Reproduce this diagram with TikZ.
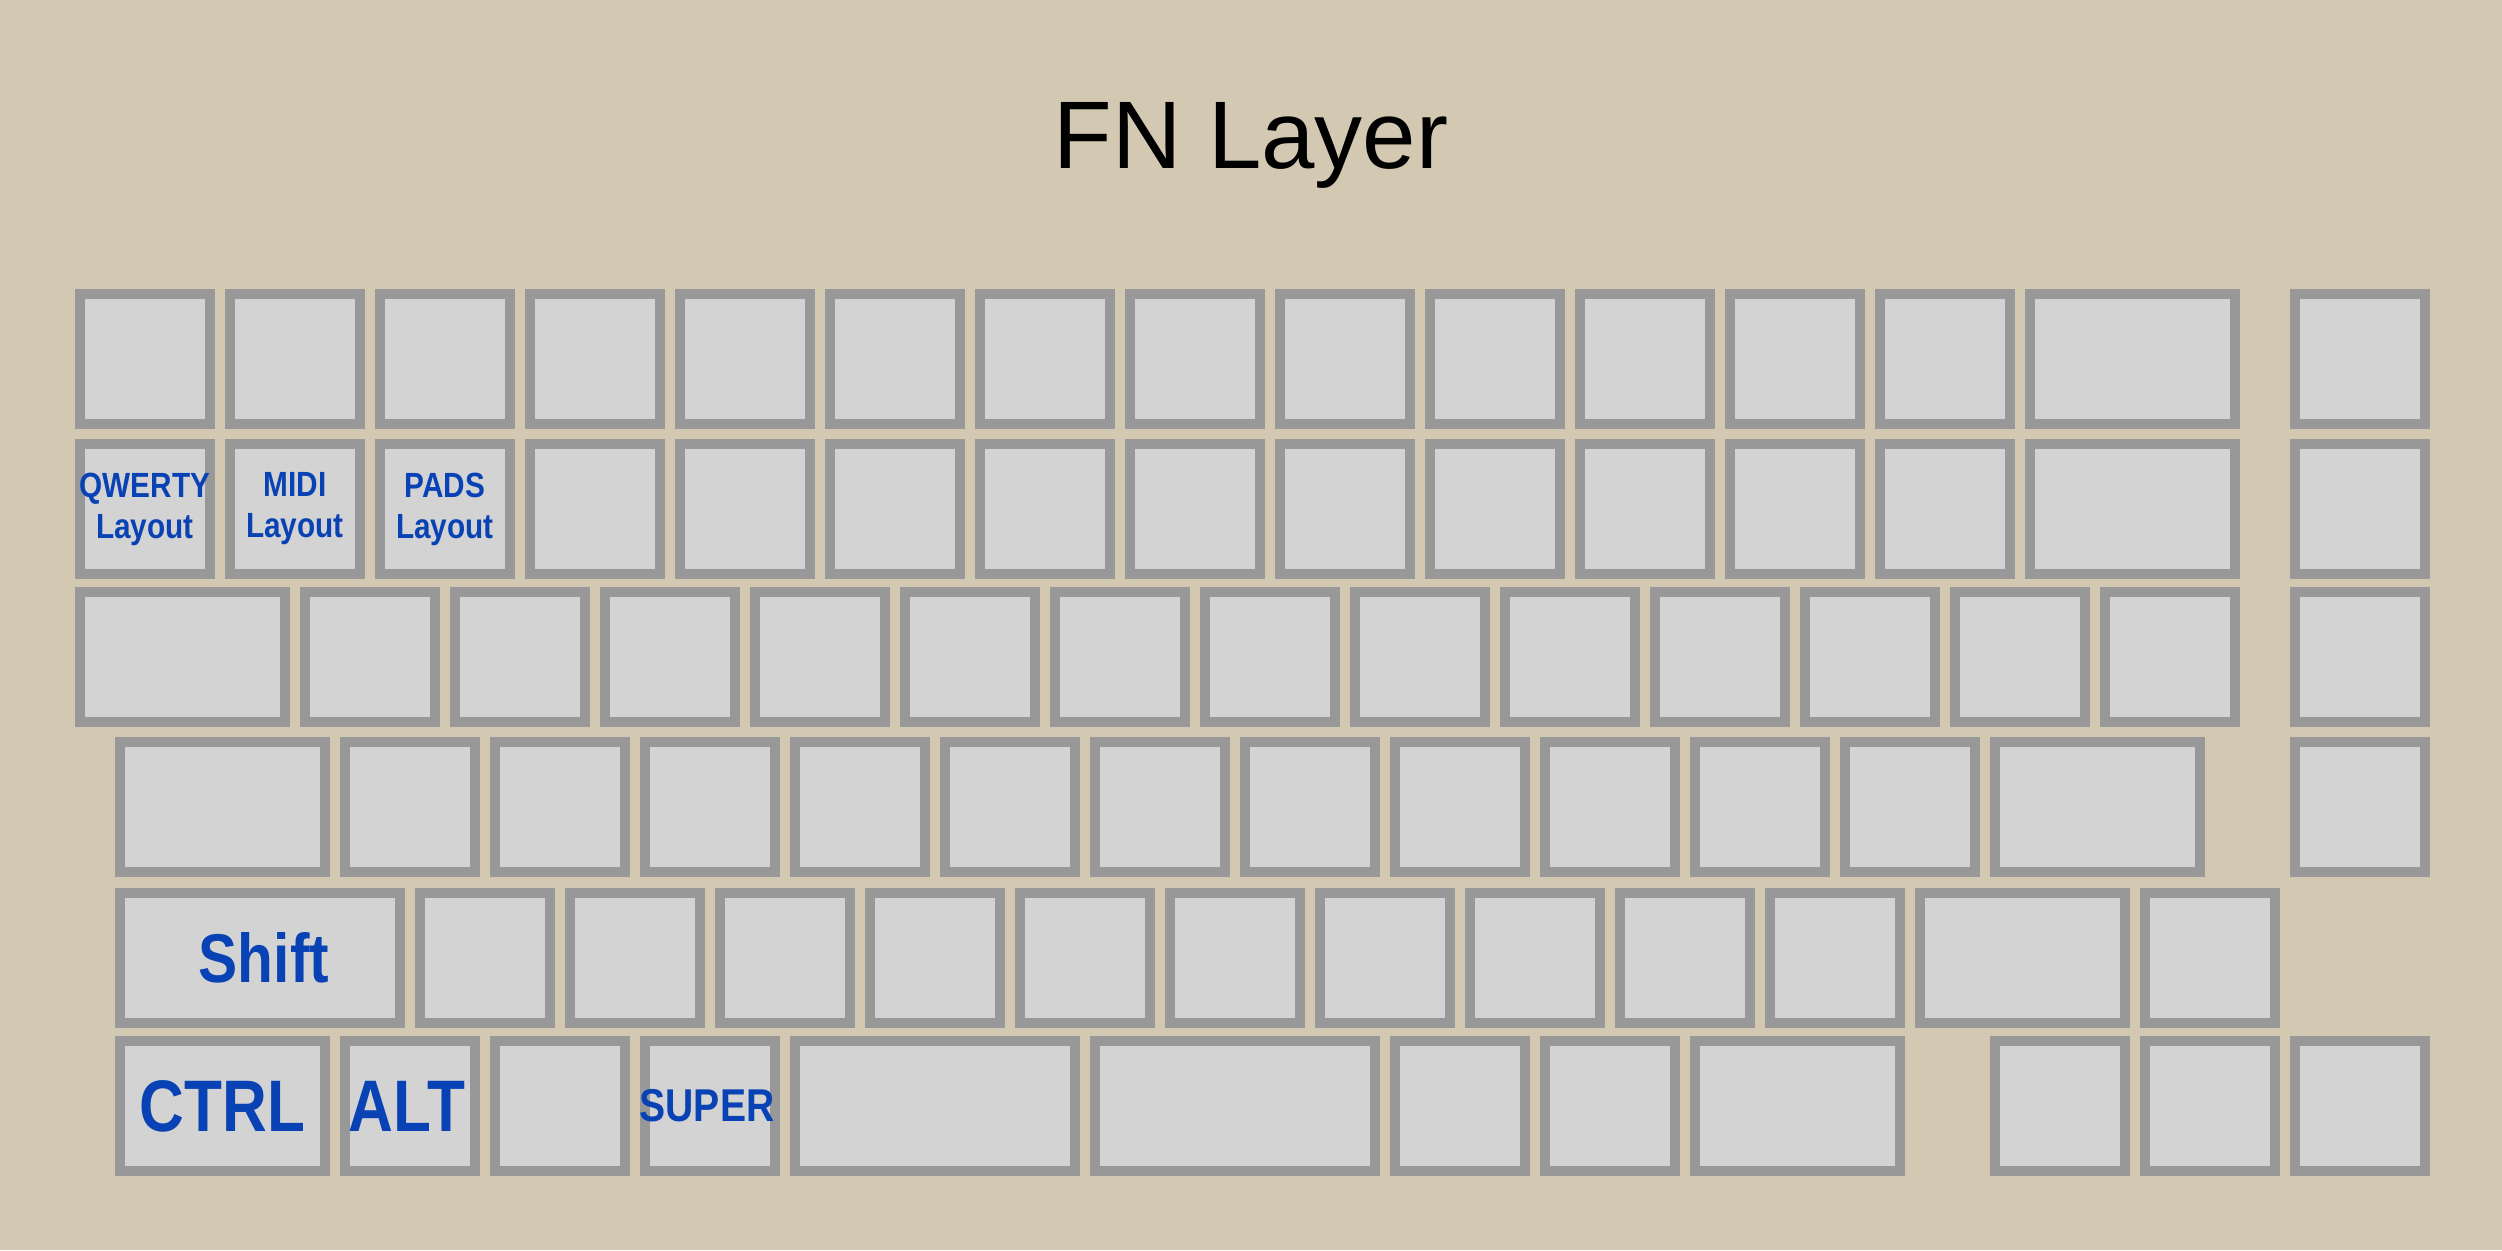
\documentclass[tikz,border=0pt]{standalone}
\usepackage{fontspec}
\setmainfont{Liberation Sans}
\newfontfamily\keyfont[FakeStretch=0.85]{Liberation Sans}
\definecolor{bgtan}{RGB}{211,200,177}
\definecolor{keyfill}{RGB}{211,211,211}
\definecolor{keyborder}{RGB}{152,152,152}
\definecolor{keyblue}{RGB}{8,66,180}
\begin{document}
\begin{tikzpicture}[x=1pt,y=-1pt,
  key/.style={draw=keyborder, fill=keyfill, line width=10pt, rectangle,
              minimum width=130pt, minimum height=130pt, inner sep=0pt},
  onehalf/.style={key, minimum width=205pt},
  twou/.style={key, minimum width=280pt},
  lbl/.style={text=keyblue, inner sep=0pt, align=center},
  small/.style={lbl, font=\keyfont\bfseries\fontsize{35}{41}\selectfont},
  big/.style={lbl, font=\keyfont\bfseries\fontsize{73}{84}\selectfont}]
\fill[bgtan] (0,0) rectangle (2502,1250);
\useasboundingbox (0,0) rectangle (2502,1250);
% title
\node[anchor=base, inner sep=0pt, font=\fontsize{96}{110}\selectfont] (title) at (1251,168) {FN Layer};
% row 1
\foreach \i in {0,...,12} \node[key] (r1k\i) at ({145+150*\i},359) {};
\node[onehalf] (r1w) at (2132.5,359) {};
\node[key] (r1r) at (2360,359) {};
% row 2
\foreach \i in {0,...,12} \node[key] (r2k\i) at ({145+150*\i},509) {};
\node[onehalf] (r2w) at (2132.5,509) {};
\node[key] (r2r) at (2360,509) {};
% row 3
\node[onehalf] (r3w) at (182.5,657) {};
\foreach \i in {0,...,12} \node[key] (r3k\i) at ({370+150*\i},657) {};
\node[key] (r3r) at (2360,657) {};
% row 4
\node[onehalf] (r4w) at (222.5,807) {};
\foreach \i in {0,...,10} \node[key] (r4k\i) at ({410+150*\i},807) {};
\node[onehalf] (r4e) at (2097.5,807) {};
\node[key] (r4r) at (2360,807) {};
% row 5
\node[twou] (r5s) at (260,958) {};
\foreach \i in {0,...,9} \node[key] (r5k\i) at ({485+150*\i},958) {};
\node[onehalf] (r5e) at (2022.5,958) {};
\node[key] (r5r) at (2210,958) {};
% row 6
\node[onehalf] (r6ctrl) at (222.5,1106) {};
\node[key] (r6alt) at (410,1106) {};
\node[key] (r6k2) at (560,1106) {};
\node[key] (r6super) at (710,1106) {};
\node[twou] (r6sp1) at (935,1106) {};
\node[twou] (r6sp2) at (1235,1106) {};
\node[key] (r6k6) at (1460,1106) {};
\node[key] (r6k7) at (1610,1106) {};
\node[onehalf] (r6k8) at (1797.5,1106) {};
\node[key] (r6k9) at (2060,1106) {};
\node[key] (r6k10) at (2210,1106) {};
\node[key] (r6k11) at (2360,1106) {};
% labels
\node[small] (lq) at (r2k0.center) {QWERTY\\Layout};
\node[small] (lm) at (r2k1.center) {MIDI\\Layout};
\node[small] (lp) at (r2k2.center) {PADS\\Layout};
\node[lbl, font=\keyfont\bfseries\fontsize{69}{84}\selectfont] (lshift) at ([xshift=4pt]r5s.center) {Shift};
\node[big] (lctrl) at (r6ctrl.center) {CTRL};
\node[big] (lalt) at ([xshift=-3pt]r6alt.center) {ALT};
\node[lbl, font=\keyfont\bfseries\fontsize{46}{56}\selectfont] (lsuper) at ([xshift=-3pt]r6super.center) {SUPER};
\end{tikzpicture}
\end{document}
